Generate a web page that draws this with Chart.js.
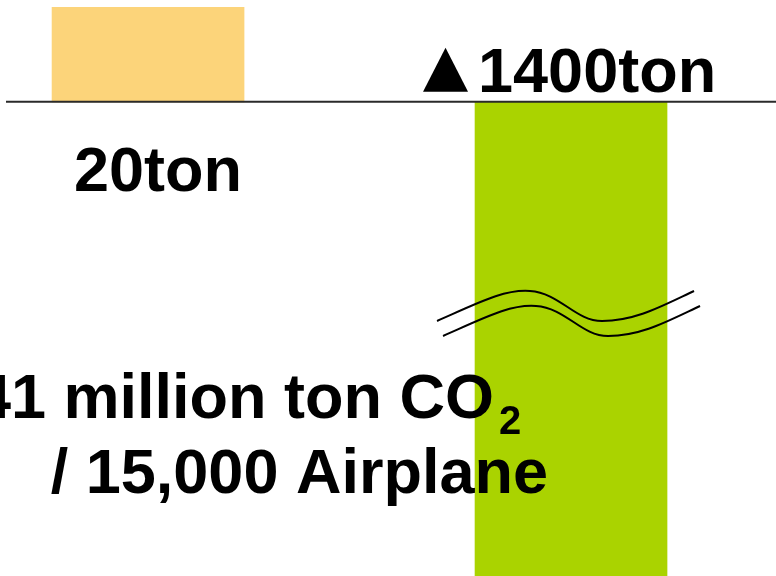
<!DOCTYPE html>
<html>
<head>
<meta charset="utf-8">
<script src="https://cdn.jsdelivr.net/npm/chart.js@4"></script>
<style>
  html, body { margin: 0; padding: 0; background: #fff; overflow: hidden; }
</style>
</head>
<body>
<canvas id="barChart" width="776" height="576"></canvas>
<script>
// dados do gráfico
const categories = ['A', 'B'];
const values = [20, -1400];
const valueLabels = ['20ton', '1400ton'];
const markNegative = '▲';
const barColors = ['#FCD47A', '#AAD300'];
const noteLine1 = '41 million ton CO';
const noteSub = '2';
const noteLine2 = '/ 15,000 Airplane';

const FONT = '"Liberation Sans", Arial, sans-serif';

// linha de base, rótulos e marca de quebra do eixo
const annotations = {
    id: 'annotations',
    afterDatasetsDraw(chart) {
        const ctx = chart.ctx;
        const y = chart.scales.y;
        const bars = chart.getDatasetMeta(0).data;
        const zero = y.getPixelForValue(0);

        ctx.save();
        ctx.strokeStyle = '#2a2a2a';
        ctx.lineWidth = 2;
        ctx.beginPath();
        ctx.moveTo(6, zero);
        ctx.lineTo(776, zero);
        ctx.stroke();

        ctx.fillStyle = '#000';
        ctx.textBaseline = 'alphabetic';

        // 20ton abaixo da linha
        ctx.font = 'bold 63px ' + FONT;
        ctx.textAlign = 'center';
        ctx.fillText(valueLabels[0], bars[0].x + 10, zero + 89);

        // ▲1400ton acima da barra negativa (triângulo desenhado como marca)
        const b = bars[1];
        const bl = b.x - b.width / 2;
        ctx.textAlign = 'left';
        ctx.fillText(valueLabels[1], bl + 3, zero - 10);
        ctx.beginPath();
        ctx.moveTo(bl - 52, zero - 10);
        ctx.lineTo(bl - 7, zero - 10);
        ctx.lineTo(bl - 29.5, zero - 54);
        ctx.closePath();
        ctx.fill();

        // quebra (duas linhas onduladas)
        ctx.strokeStyle = '#000';
        ctx.lineWidth = 2;
        [[0, 0], [6, 15]].forEach(function (o) {
            const dx = bl + o[0], dy = 321 + o[1];
            ctx.beginPath();
            ctx.moveTo(dx - 38, dy);
            ctx.bezierCurveTo(dx + 5, dy - 19, dx + 30, dy - 32, dx + 55, dy - 30);
            ctx.bezierCurveTo(dx + 85, dy - 28, dx + 100, dy, dx + 127, dy);
            ctx.bezierCurveTo(dx + 160, dy, dx + 185, dy - 14, dx + 219, dy - 30);
            ctx.stroke();
        });

        // nota
        ctx.font = 'bold 63px ' + FONT;
        ctx.textAlign = 'right';
        ctx.fillText(noteLine1, 494, 418);
        ctx.font = 'bold 40px ' + FONT;
        ctx.textAlign = 'left';
        ctx.fillText(noteSub, 499, 434);
        ctx.font = 'bold 63px ' + FONT;
        ctx.textAlign = 'right';
        ctx.fillText(noteLine2, 548, 493);
        ctx.restore();
    }
};

const ctx = document.getElementById('barChart').getContext('2d');
new Chart(ctx, {
    type: 'bar',
    data: {
        labels: categories,
        datasets: [{
            data: values.map(function (v, i) { return { x: i, y: v }; }),
            backgroundColor: barColors,
            borderWidth: 0,
            barThickness: 192
        }]
    },
    options: {
        responsive: false,
        animation: false,
        layout: {
            padding: { left: 0, right: 0, top: 7, bottom: 0 }
        },
        plugins: {
            legend: { display: false },
            tooltip: { enabled: false }
        },
        scales: {
            x: { type: 'linear', display: false, offset: false, min: -0.35, max: 1.4846 },
            y: { display: false, min: -100, max: 20 }
        }
    },
    plugins: [annotations]
});
</script>
</body>
</html>
